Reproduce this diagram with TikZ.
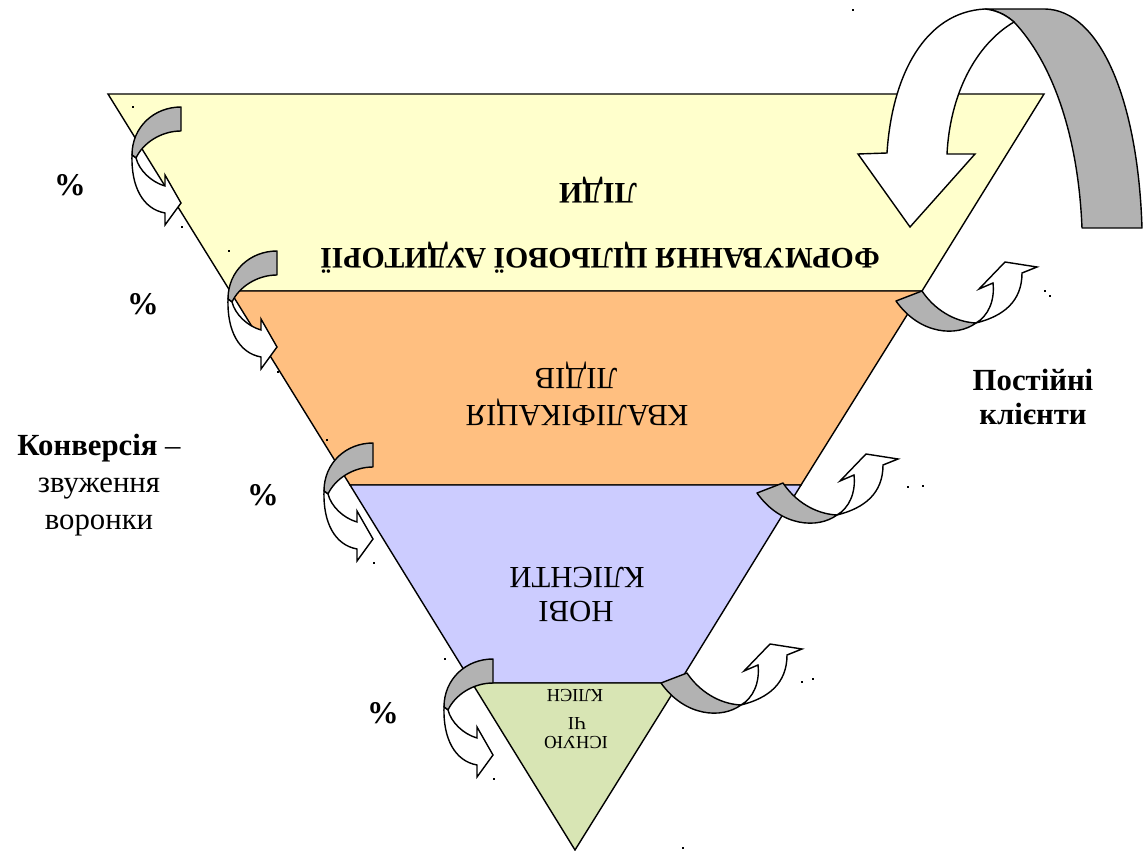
\documentclass[tikz,border=0pt]{standalone}
\usepackage{fontspec}
\setmainfont{Liberation Serif}
\usetikzlibrary{positioning}

\definecolor{bandyellow}{RGB}{255,255,204}
\definecolor{bandorange}{RGB}{255,191,128}
\definecolor{bandblue}{RGB}{204,204,255}
\definecolor{bandgreen}{RGB}{216,229,180}
\definecolor{arrgray}{RGB}{178,178,178}

\tikzset{
  band/.style={draw=black, line width=0.8pt, line join=miter},
  backside/.style={draw=black, fill=arrgray, line width=0.8pt, line join=round},
  frontside/.style={draw=black, fill=white, line width=0.8pt, line join=miter},
  bandtext/.style={rotate=180, inner sep=0pt, font=\fontsize{17.5}{21}\selectfont},
  sidetext/.style={inner sep=0pt, align=center},
}

% curved arrow on the left edge, origin = upper end of the grey part
\newcommand{\turnleft}[2]{%
  \begin{scope}[shift={(#1,#2)}]
    \draw[backside] (0,0) -- (0,24) .. controls (-20,24) and (-38,36) .. (-45,51) -- (-49,48) .. controls (-49,20) and (-27,0) .. (0,0) -- cycle;
    \draw[frontside] (-49,48) .. controls (-50,80) and (-38,102) .. (-16,106) -- (-16,118) -- (0,96) -- (-16,68) -- (-16,79) .. controls (-30,75) and (-42,63) .. (-45,51) -- cycle;
  \end{scope}}

% curved arrow on the right edge, origin = upper corner of the grey end
\newcommand{\turnright}[2]{%
  \begin{scope}[shift={(#1,#2)}]
    \draw[backside] (0,0) .. controls (12,18) and (32,31) .. (54,32) .. controls (35,46) and (-2,44) .. (-26,10) -- cycle;
    \draw[frontside] (54,32) .. controls (82,25) and (100,10) .. (100,-18) -- (115,-24) -- (83,-29) -- (57,-2) -- (71,-8) .. controls (73,10) and (66,25) .. (54,32) -- cycle;
  \end{scope}}

\begin{document}
\begin{tikzpicture}[x=0.02cm, y=-0.02cm]
  \useasboundingbox (0,0) rectangle (1147,851);

  %%%%% funnel %%%%%
  \draw[band, fill=bandyellow] (108,94) -- (1044,94) -- (922,291) -- (230,291) -- cycle;
  \draw[band, fill=bandorange] (230,291) -- (922,291) -- (801,485) -- (350,485) -- cycle;
  \draw[band, fill=bandblue] (350,485) -- (801,485) -- (679,683) -- (472,683) -- cycle;
  \draw[band, fill=bandgreen] (472,683) -- (679,683) -- (575,850) -- cycle;

  \node[bandtext, font=\bfseries\fontsize{17}{20}\selectfont] (aud) at (600,258) {ФОРМУВАННЯ ЦІЛЬОВОЇ АУДИТОРІЇ};
  \node[bandtext, font=\bfseries\fontsize{17}{20}\selectfont] (leads) at (598,190) {ЛІДИ};

  \node[bandtext] (qual) at (577,412) {КВАЛІФІКАЦІЯ};
  \node[bandtext] (qualb) at (576,375) {ЛІДІВ};

  \node[bandtext] (newc) at (576,612) {НОВІ};
  \node[bandtext] (newcb) at (577,578) {КЛІЄНТИ};

  \node[bandtext, font=\fontsize{10.5}{12}\selectfont] (cur) at (576,743) {ІСНУЮ};
  \node[bandtext, font=\fontsize{10.5}{12}\selectfont] (curb) at (577,724) {ЧІ};
  \node[bandtext, font=\fontsize{10.5}{12}\selectfont] (curc) at (575,696) {КЛІЄН};

  %%%%% arrows %%%%%
  \turnleft{181}{107}
  \turnleft{277}{251}
  \turnleft{373}{443}
  \turnleft{493}{659}

  \turnright{922}{291}
  \turnright{783}{483}
  \turnright{687}{673}

  % big arrow at the top right
  \draw[backside] (1082,228) -- (1142,228) .. controls (1138,100) and (1100,10) .. (1045,9) -- (985,9) .. controls (995,10) and (1005,14) .. (1014,22) .. controls (1050,60) and (1078,130) .. (1082,228) -- cycle;
  \draw[frontside] (985,9) .. controls (925,12) and (892,75) .. (887,153) -- (858,154) -- (910,227) -- (975,154) -- (947,154) .. controls (950,95) and (975,45) .. (1014,22) .. controls (1005,14) and (995,10) .. (985,9) -- cycle;

  %%%%% labels %%%%%
  \node[sidetext, font=\fontsize{17.5}{21}\selectfont] (conv) at (99,485) {\textbf{Конверсія} –\\звуження\\воронки};
  \node[sidetext, font=\bfseries\fontsize{17.5}{19}\selectfont] (regular) at (1033,397) {Постійні\\клієнти};

  \node[sidetext, font=\bfseries\fontsize{18}{20}\selectfont] (pc1) at (70,185) {\%};
  \node[sidetext, font=\bfseries\fontsize{18}{20}\selectfont] (pc2) at (143,304) {\%};
  \node[sidetext, font=\bfseries\fontsize{18}{20}\selectfont] (pc3) at (263,495) {\%};
  \node[sidetext, font=\bfseries\fontsize{18}{20}\selectfont] (pc4) at (383,713) {\%};

  % stray dots
  \foreach \x/\y in {133/107, 182/227, 229/251, 278/372, 327/440, 374/563, 445/659, 494/779,
                     853/10, 1045/291, 1050/296, 908/487, 923/486, 802/682, 813/679, 683/848}
    \fill (\x-1,\y-1) rectangle ++(2,2);
\end{tikzpicture}
\end{document}
